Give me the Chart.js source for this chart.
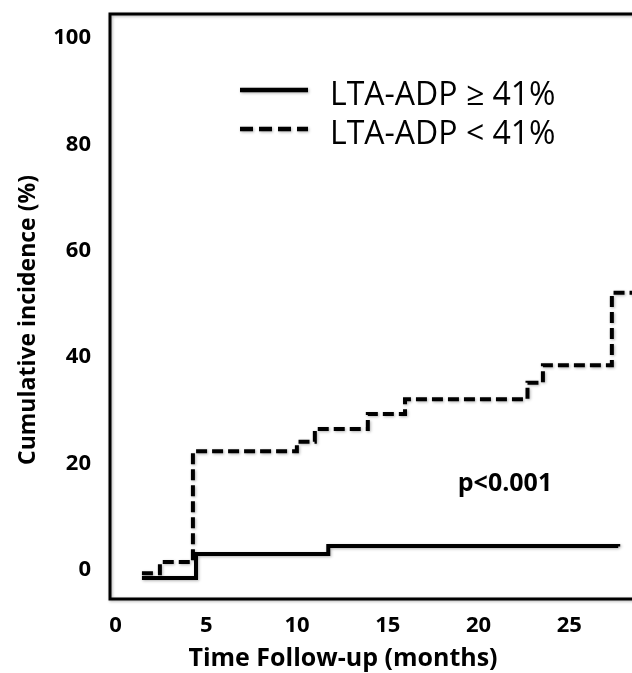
<!DOCTYPE html>
<html>
<head>
<meta charset="utf-8">
<script src="https://cdn.jsdelivr.net/npm/chart.js@4.4.1/dist/chart.umd.min.js"></script>
<style>
  html, body { margin: 0; padding: 0; background: #fff; overflow: hidden; }
  #wrap { width: 632px; height: 673px; }
</style>
</head>
<body>
<div id="wrap"><canvas id="kmChart" width="632" height="673"></canvas></div>
<script>
// months / cumulative incidence (%), step points
const highX = [1.45, 4.43, 11.72, 27.7];
const highY = [-1.5, 3.0, 4.5, 4.4];
const lowX = [1.45, 2.44, 4.26, 9.99, 10.98, 13.9, 15.95, 22.7, 23.55, 27.35, 28.5];
const lowY = [-0.6, 1.5, 22.3, 24.1, 26.5, 29.3, 32.1, 35.2, 38.5, 52.1, 52.1];
const xTicks = [0, 5, 10, 15, 20, 25];
const yTicks = [0, 20, 40, 60, 80, 100];
const seriesLabels = ["LTA-ADP \u2265 41%", "LTA-ADP < 41%"];
const pValueText = "p<0.001";
const pValuePos = [21.46, 16.2];

const toPoints = (xs, ys) => xs.map((x, i) => ({ x: x, y: ys[i] }));

// frame, legend, titles, p-value
const decorPlugin = {
  id: "decor",
  beforeDatasetDraw(chart) {
    const ctx = chart.ctx;
    ctx.save();
    ctx.shadowColor = "rgba(0,0,0,0.3)";
    ctx.shadowBlur = 3;
    ctx.shadowOffsetX = 1;
    ctx.shadowOffsetY = 1;
  },
  afterDatasetDraw(chart) {
    chart.ctx.restore();
  },
  afterDraw(chart) {
    const ctx = chart.ctx;
    const area = chart.chartArea;
    const xs = chart.scales.x;
    const ys = chart.scales.y;

    // frame (right side is cut off in the original)
    ctx.save();
    ctx.strokeStyle = "#000";
    ctx.lineWidth = 3;
    ctx.shadowColor = "rgba(0,0,0,0.3)";
    ctx.shadowBlur = 3;
    ctx.shadowOffsetX = 1;
    ctx.shadowOffsetY = 1;
    ctx.beginPath();
    ctx.moveTo(chart.width + 5, area.top);
    ctx.lineTo(area.left, area.top);
    ctx.lineTo(area.left, area.bottom);
    ctx.lineTo(chart.width + 5, area.bottom);
    ctx.stroke();
    ctx.restore();

    // legend
    ctx.save();
    ctx.fillStyle = "#000";
    ctx.font = "32px 'Open Sans'";
    ctx.textBaseline = "alphabetic";
    const rows = [90, 129];
    chart.data.datasets.forEach((ds, i) => {
      ctx.save();
      ctx.strokeStyle = "#000";
      ctx.lineWidth = 4.5;
      ctx.setLineDash(ds.borderDash && ds.borderDash.length ? [13, 6] : []);
      ctx.shadowColor = "rgba(0,0,0,0.3)";
      ctx.shadowBlur = 3;
      ctx.shadowOffsetX = 1;
      ctx.shadowOffsetY = 1;
      ctx.beginPath();
      ctx.moveTo(240, rows[i]);
      ctx.lineTo(308, rows[i]);
      ctx.stroke();
      ctx.restore();
      ctx.fillText(ds.label, 330, rows[i] + 15);
    });
    ctx.restore();

    // p value
    ctx.save();
    ctx.fillStyle = "#000";
    ctx.font = "bold 25px 'Open Sans'";
    ctx.textAlign = "center";
    ctx.textBaseline = "middle";
    ctx.fillText(pValueText, xs.getPixelForValue(pValuePos[0]), ys.getPixelForValue(pValuePos[1]));
    ctx.restore();

    // axis titles
    ctx.save();
    ctx.fillStyle = "#000";
    ctx.textAlign = "center";
    ctx.textBaseline = "middle";
    ctx.font = "bold 25px 'Open Sans'";
    ctx.fillText("Time Follow-up (months)", 343, 659);
    ctx.translate(28, 320);
    ctx.rotate(-Math.PI / 2);
    ctx.font = "bold 23px 'Open Sans'";
    ctx.fillText("Cumulative incidence (%)", 0, 0);
    ctx.restore();
  }
};

new Chart(document.getElementById("kmChart"), {
  type: "line",
  data: {
    datasets: [
      {
        label: seriesLabels[0],
        data: toPoints(highX, highY),
        borderColor: "#000",
        borderWidth: 4,
        stepped: true,
        pointRadius: 0,
        fill: false,
      },
      {
        label: seriesLabels[1],
        data: toPoints(lowX, lowY),
        borderColor: "#000",
        borderWidth: 4,
        borderDash: [11, 5],
        stepped: true,
        pointRadius: 0,
        fill: false,
      },
    ],
  },
  options: {
    responsive: false,
    animation: false,
    layout: { padding: { top: 14, right: 0, left: 0, bottom: 0 } },
    plugins: {
      legend: { display: false },
      tooltip: { enabled: false },
    },
    scales: {
      x: {
        type: "linear",
        min: -0.31,
        max: 28.46,
        afterBuildTicks: (scale) => { scale.ticks = xTicks.map((v) => ({ value: v })); },
        afterFit: (scale) => { scale.height = 74; scale.paddingLeft = 0; scale.paddingRight = 0; },
        grid: { display: false, drawTicks: false },
        border: { display: false },
        ticks: {
          color: "#000",
          padding: 14,
          maxRotation: 0,
          font: { family: "'Open Sans'", size: 22, weight: "bold" },
        },
      },
      y: {
        type: "linear",
        min: -5.45,
        max: 104.5,
        afterBuildTicks: (scale) => { scale.ticks = yTicks.map((v) => ({ value: v })); },
        afterFit: (scale) => { scale.width = 110; scale.paddingTop = 0; scale.paddingBottom = 0; },
        grid: { display: false, drawTicks: false },
        border: { display: false },
        ticks: {
          color: "#000",
          padding: 19,
          font: { family: "'Open Sans'", size: 22, weight: "bold" },
        },
      },
    },
  },
  plugins: [decorPlugin],
});
</script>
</body>
</html>
